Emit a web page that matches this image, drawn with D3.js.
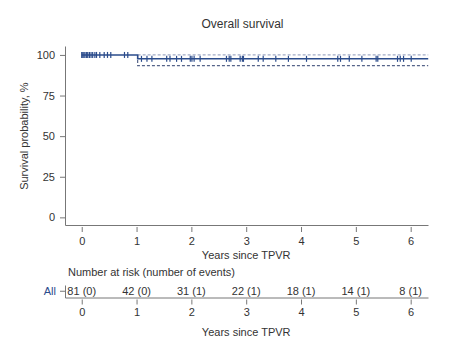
<!DOCTYPE html>
<html>
<head>
<meta charset="utf-8">
<script src="https://cdn.jsdelivr.net/npm/d3@7"></script>
<style>
  body { margin: 0; background: #fff; }
  text { font-family: "Liberation Sans", Arial, sans-serif; }
</style>
</head>
<body>
<svg id="drawing_region"></svg>
<script>
// Kaplan-Meier step points (years, survival %)
const kmTimes = [0, 1.02, 6.32];
const kmSurv = [100, 97.6, 97.6];
// 95% confidence band after the first event
const ciTimes = [1.02, 6.32];
const ciUpper = [100, 100];
const ciLower = [93.4, 93.4];
// censoring times (years)
const censorTimes = [0.0, 0.02, 0.04, 0.06, 0.09, 0.11, 0.14, 0.17, 0.2, 0.24, 0.27,
    0.33, 0.41, 0.47, 0.53, 0.78, 0.84,
    1.09, 1.19, 1.28, 1.55, 1.61, 1.73, 1.82, 1.98, 2.01, 2.05, 2.16,
    2.64, 2.69, 2.72, 2.89, 2.93, 2.95, 3.22, 3.31, 3.54, 3.77, 4.10,
    4.67, 4.72, 4.88, 5.11, 5.37, 5.40, 5.76, 5.81, 5.87, 6.01];
// axes
const xTicks = [0, 1, 2, 3, 4, 5, 6];
const yTicks = [0, 25, 50, 75, 100];
// number at risk table
const riskYears = [0, 1, 2, 3, 4, 5, 6];
const riskN = [81, 42, 31, 22, 18, 14, 8];
const riskEvents = [0, 0, 1, 1, 1, 1, 1];
const riskGroups = ['All'];

const blue = '#2b4c8c';
const axisCol = '#777';
const textCol = '#333';
const fmt = d3.format('d');

const svg = d3.select('#drawing_region')
    .attr('width', 458)
    .attr('height', 354);

const x = d3.scaleLinear().domain([-0.305, 6.316]).range([65, 428]);
const y = d3.scaleLinear().domain([-4.7, 105.5]).range([225, 46]);

// title
svg.append('text')
    .attr('x', 242.5).attr('y', 28)
    .attr('text-anchor', 'middle')
    .attr('font-size', 12)
    .attr('fill', textCol)
    .text('Overall survival');

// y axis
const yaxis_group = svg.append('g')
    .attr('transform', 'translate(65,0)')
    .call(d3.axisLeft(y).tickValues(yTicks).tickFormat(fmt).tickSize(5).tickSizeOuter(0).tickPadding(5));

// x axis
const xaxis_group = svg.append('g')
    .attr('transform', 'translate(0,225)')
    .call(d3.axisBottom(x).tickValues(xTicks).tickFormat(fmt).tickSize(7).tickSizeOuter(0).tickPadding(5));
xaxis_group.selectAll('.tick line').attr('y1', 2);

[yaxis_group, xaxis_group].forEach(g => {
    g.select('.domain').attr('stroke', axisCol);
    g.selectAll('.tick line').attr('stroke', axisCol);
    g.selectAll('.tick text').attr('fill', textCol).attr('font-size', 11)
        .style('font-family', '"Liberation Sans", Arial, sans-serif');
});

svg.append('text')
    .attr('transform', `translate(24,${(y(0) + y(100)) / 2}) rotate(-90)`)
    .attr('text-anchor', 'middle')
    .attr('dy', '0.35em')
    .attr('font-size', 11)
    .attr('fill', textCol)
    .text('Survival probability, %');

svg.append('text')
    .attr('x', x(3)).attr('y', 259)
    .attr('text-anchor', 'middle')
    .attr('font-size', 11)
    .attr('fill', textCol)
    .text('Years since TPVR');

// confidence band
const stepLine = d3.line()
    .x(d => x(d[0])).y(d => y(d[1]))
    .curve(d3.curveStepAfter);

svg.append('path')
    .attr('d', stepLine(ciTimes.map((t, i) => [t, ciUpper[i]])))
    .attr('fill', 'none')
    .attr('stroke', '#a3acc6')
    .attr('stroke-width', 1.2)
    .attr('stroke-dasharray', '3,2');

svg.append('path')
    .attr('d', stepLine([[ciTimes[0], kmSurv[0]]].concat(ciTimes.map((t, i) => [t, ciLower[i]]))))
    .attr('fill', 'none')
    .attr('stroke', '#56648a')
    .attr('stroke-width', 1.2)
    .attr('stroke-dasharray', '3,2');

// survival curve
svg.append('path')
    .attr('d', stepLine(kmTimes.map((t, i) => [t, kmSurv[i]])))
    .attr('fill', 'none')
    .attr('stroke', blue)
    .attr('stroke-width', 1.5);

const survAt = t => {
    let s = kmSurv[0];
    kmTimes.forEach((kt, i) => { if (t >= kt) s = kmSurv[i]; });
    return s;
};

svg.append('g').selectAll('line')
    .data(censorTimes)
    .enter()
    .append('line')
    .attr('x1', d => x(d)).attr('x2', d => x(d))
    .attr('y1', d => y(survAt(d)) - 3)
    .attr('y2', d => y(survAt(d)) + 3)
    .attr('stroke', blue)
    .attr('stroke-width', 1.2);

// number at risk table
svg.append('text')
    .attr('x', 68).attr('y', 276)
    .attr('font-size', 11)
    .attr('fill', textCol)
    .text('Number at risk (number of events)');

const yr = d3.scaleBand().domain(riskGroups).range([285, 297.5]);

const ryaxis = svg.append('g')
    .attr('transform', 'translate(65,0)')
    .call(d3.axisLeft(yr).tickSize(5).tickSizeOuter(0).tickPadding(4));
ryaxis.select('.domain').attr('stroke', axisCol);
ryaxis.selectAll('.tick line').attr('stroke', axisCol);
ryaxis.selectAll('.tick text').attr('fill', blue).attr('font-size', 11)
    .style('font-family', '"Liberation Sans", Arial, sans-serif');

const rxaxis = svg.append('g')
    .attr('transform', 'translate(0,297.5)')
    .call(d3.axisBottom(x).tickValues(xTicks).tickFormat(fmt).tickSize(7).tickSizeOuter(0).tickPadding(4));
rxaxis.selectAll('.tick line').attr('y1', 2).attr('stroke', axisCol);
rxaxis.select('.domain').attr('stroke', axisCol);
rxaxis.selectAll('.tick text').attr('fill', textCol).attr('font-size', 11)
    .style('font-family', '"Liberation Sans", Arial, sans-serif');

svg.append('g').selectAll('text')
    .data(riskYears)
    .enter()
    .append('text')
    .attr('x', d => x(d))
    .attr('y', yr('All') + yr.bandwidth() / 2)
    .attr('dy', '0.35em')
    .attr('text-anchor', 'middle')
    .attr('font-size', 11)
    .attr('fill', textCol)
    .text((d, i) => `${riskN[i]} (${riskEvents[i]})`);

svg.append('text')
    .attr('x', x(3)).attr('y', 336)
    .attr('text-anchor', 'middle')
    .attr('font-size', 11)
    .attr('fill', textCol)
    .text('Years since TPVR');
</script>
</body>
</html>
